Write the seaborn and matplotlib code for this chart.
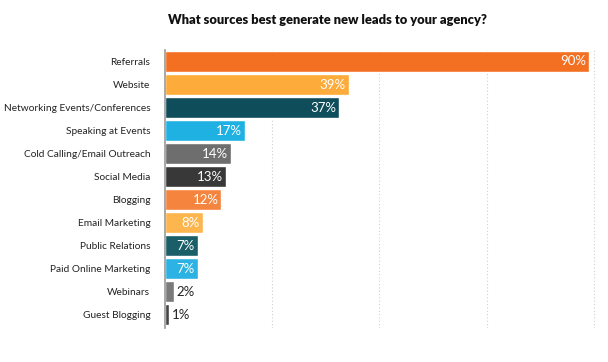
import pandas as pd
import numpy as np
import matplotlib.pyplot as plt
import seaborn as sns

sources = ["Referrals", "Website", "Networking Events/Conferences", "Speaking at Events",
           "Cold Calling/Email Outreach", "Social Media", "Blogging", "Email Marketing",
           "Public Relations", "Paid Online Marketing", "Webinars", "Guest Blogging"]
percents = [90, 39, 37, 17, 14, 13, 12, 8, 7, 7, 2, 1]
bar_colors = ["#F36F21", "#FDAB3A", "#0F4D5A", "#20B1E3", "#6E6E6E", "#383838",
              "#F5843F", "#FDB54E", "#1A5E68", "#2CB3E3", "#7A7A7A", "#444444"]

df = pd.DataFrame({"source": sources, "pct": percents})

sns.set_style("white")
plt.rcParams['font.family'] = ['Lato', 'DejaVu Sans']

fig = plt.figure(figsize=(6.08, 3.62), dpi=100)
ax = fig.add_axes([0.271, 0.094, 0.71, 0.768])

sns.barplot(data=df, y="source", x="pct", hue="source", palette=bar_colors,
            legend=False, width=0.9, ax=ax, saturation=1)

xmax = 91
ax.set_xlim(0, xmax + 0.5)
ax.set_ylim(11.57, -0.5)
ax.set_xticks(np.linspace(0, xmax, 5)[1:])
ax.xaxis.grid(True, color="#d0d0d0", linestyle=(0, (1, 2)), linewidth=0.8)
ax.set_axisbelow(True)
ax.tick_params(axis="x", bottom=False, labelbottom=False)
ax.tick_params(axis="y", left=False, labelsize=7.3, colors="#222222", pad=7)
ax.set_xlabel("")
ax.set_ylabel("")
for s in ["top", "right", "bottom"]:
    ax.spines[s].set_visible(False)
ax.spines["left"].set_color("#999999")
ax.spines["left"].set_linewidth(1.2)

# value labels
for i, v in enumerate(percents):
    if v >= 5:
        ax.text(v - 0.6, i, f"{v}%", ha="right", va="center", color="white", fontsize=9.5)
    else:
        ax.text(v + 0.5, i, f"{v}%", ha="left", va="center", color="#222222", fontsize=9.5)

fig.text(0.538, 0.945, "What sources best generate new leads to your agency?",
         ha="center", va="center", fontsize=9.3, fontweight="heavy", color="#111111")

fig.savefig("out.png", dpi=100, facecolor="white")
